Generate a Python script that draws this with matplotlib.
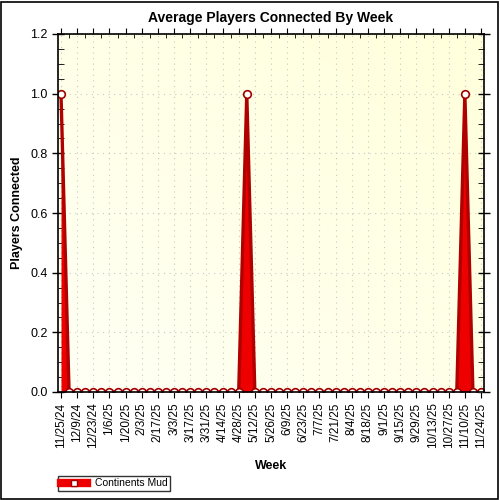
import matplotlib
matplotlib.use("Agg")
import matplotlib.pyplot as plt
from matplotlib.lines import Line2D
from matplotlib.ticker import MultipleLocator, FormatStrFormatter
import numpy as np
import pandas as pd

plt.rcParams['font.family'] = ['Liberation Sans', 'DejaVu Sans']

# weekly data, 11/25/24 .. 11/24/25
weeks = pd.date_range('2024-11-25', '2025-11-24', freq='7D')
players = [1, 0, 0, 0, 0, 0, 0, 0, 0, 0,
           0, 0, 0, 0, 0, 0, 0, 0, 0, 0,
           0, 0, 0, 1, 0, 0, 0, 0, 0, 0,
           0, 0, 0, 0, 0, 0, 0, 0, 0, 0,
           0, 0, 0, 0, 0, 0, 0, 0, 0, 0,
           1, 0, 0]
series_name = 'Continents Mud'
week_labels = [f"{d.month}/{d.day}/{d.strftime('%y')}" for d in weeks]

fig = plt.figure(figsize=(5, 5), dpi=100)
fig.patch.set_facecolor('white')
ax = fig.add_axes([58/500, 108/500, 426/500, 358/500])

x = np.arange(len(weeks))
xmin, xmax = -0.37, len(weeks) - 1 + 0.37
ax.set_xlim(xmin, xmax)
ax.set_ylim(0, 1.2)

# gradient background of plot area
grad = np.linspace(0, 1, 200)
gx, gy = np.meshgrid(grad, grad)
g = (gx + gy) / 2
c0 = np.array([1.0, 1.0, 0.96])
c1 = np.array([1.0, 1.0, 0.86])
img = c0[None, None, :] * (1 - g[..., None]) + c1[None, None, :] * g[..., None]
ax.imshow(img, extent=[xmin, xmax, 0, 1.2], origin='lower',
          aspect='auto', zorder=0)

ax.fill_between(x, 0, players, color='#ee0000', linewidth=0, zorder=2)
ax.plot(x, players, color='#b00000', lw=2.4, marker='o', ms=5.5,
        mfc='white', mec='#a00000', mew=1.2, zorder=3)

ax.set_xticks(x[::2])
ax.set_xticklabels(week_labels[::2], rotation=90, fontsize=8.5)
ax.set_xticks(x, minor=True)
ax.yaxis.set_major_locator(MultipleLocator(0.2))
ax.yaxis.set_minor_locator(MultipleLocator(0.05))
ax.yaxis.set_major_formatter(FormatStrFormatter('%.1f'))
ax.tick_params(axis='y', which='major', direction='inout', length=8, width=1,
               right=True, labelsize=9)
ax.tick_params(axis='y', which='minor', direction='in', length=4, right=True)
ax.tick_params(axis='x', which='major', direction='out', length=4, top=True)
ax.tick_params(axis='x', which='minor', direction='in', length=3, top=True)

ax.set_axisbelow(True)
ax.grid(True, which='major', linestyle=(0, (1, 4)), color='#c8c8c8', lw=0.8)
for s in ax.spines.values():
    s.set_linewidth(1.2)
    s.set_zorder(5)

ax.set_title('Average Players Connected By Week', fontsize=10, fontweight='bold',
             pad=9)
ax.set_xlabel('Week', fontsize=9, fontweight='bold', labelpad=8)
ax.set_ylabel('Players Connected', fontsize=9, fontweight='bold', labelpad=5)

handle = Line2D([], [], color='#ee0000', lw=6, marker='s', ms=5,
                mfc='white', mec='#a00000')
fig.legend([handle], [series_name], loc='lower left',
           bbox_to_anchor=(58/500, 9/500), fontsize=7.5, frameon=True,
           fancybox=False, edgecolor='black', borderpad=0.25,
           handlelength=2.5, handletextpad=0.8, borderaxespad=0)

fig.patches.append(plt.Rectangle((0.002, 0.002), 0.994, 0.994, fill=False,
                                 edgecolor='black', lw=1.2,
                                 transform=fig.transFigure))

fig.savefig('out.png', dpi=100)
